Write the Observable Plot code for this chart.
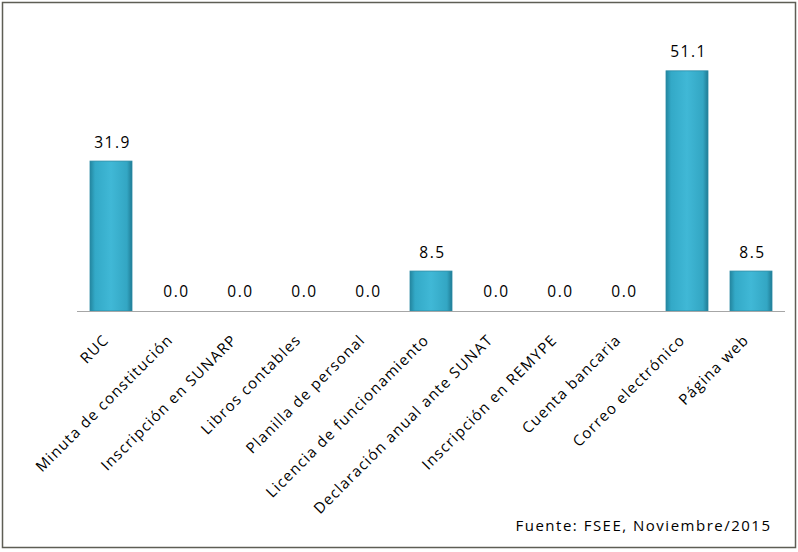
<!DOCTYPE html>
<html><head><meta charset="utf-8">
<script src="https://cdn.jsdelivr.net/npm/d3@7"></script>
<script src="https://cdn.jsdelivr.net/npm/@observablehq/plot@0.6"></script>
<style>
body{margin:0;background:#fff;} svg{display:block;}
g[aria-label="x-axis tick label"] text{letter-spacing:1.2px;}
g.vals text{letter-spacing:1.5px;}
g.src text{letter-spacing:1.5px;}
</style>
</head><body><div id="chart"></div>
<script>
const categories = ["RUC","Minuta de constitución","Inscripción en SUNARP","Libros contables","Planilla de personal","Licencia de funcionamiento","Declaración anual ante SUNAT","Inscripción en REMYPE","Cuenta bancaria","Correo electrónico","Página web"];
const values = [31.9,0.0,0.0,0.0,0.0,8.5,0.0,0.0,0.0,51.1,8.5];
const source = "Fuente: FSEE, Noviembre/2015";
const data = categories.map((c,i)=>({c, v: values[i]}));

const chart = Plot.plot({
  width: 798, height: 552,
  marginLeft: 77, marginRight: 13, marginTop: 29, marginBottom: 241,
  style: {fontFamily: "'Open Sans', sans-serif", background: "#fff"},
  x: {domain: categories, paddingInner: 0.35, paddingOuter: 0.175, label: null},
  y: {domain: [0, 60], axis: null},
  marks: [
    Plot.barY(data, {x: "c", y: "v", fill: "url(#barGrad)", stroke: "#2a8aa5", strokeWidth: 0.8}),
    Plot.ruleY([0], {stroke: "#a6a6a6", strokeWidth: 1.2}),
    Plot.text(data, {x: "c", y: "v", text: d => d.v.toFixed(1), dy: -19, dx: 1, fontSize: 15.5, fill: "#000", className: "vals"}),
    Plot.axisX({tickRotate: -45, tickSize: 0, tickPadding: 26, dx: -5, fontSize: 15, fill: "#000", label: null}),
    Plot.text([source], {frameAnchor: "bottom-right", dx: -14, dy: 219, fontSize: 15, fill: "#000", text: d => d, className: "src"})
  ]
});
const svg = d3.select(chart);
const defs = svg.insert("defs", ":first-child");
const g = defs.append("linearGradient").attr("id","barGrad").attr("x1","0").attr("x2","1").attr("y1","0").attr("y2","0");
g.append("stop").attr("offset","0%").attr("stop-color","#23869f");
g.append("stop").attr("offset","12%").attr("stop-color","#33a9c7");
g.append("stop").attr("offset","50%").attr("stop-color","#40b8d6");
g.append("stop").attr("offset","88%").attr("stop-color","#33a6c3");
g.append("stop").attr("offset","100%").attr("stop-color","#207c95");
svg.append("rect").attr("x",2.5).attr("y",2.5).attr("width",793).attr("height",545)
  .attr("fill","none").attr("stroke","#5e5e55").attr("stroke-width",1.5);
document.getElementById("chart").append(chart);
</script></body></html>
